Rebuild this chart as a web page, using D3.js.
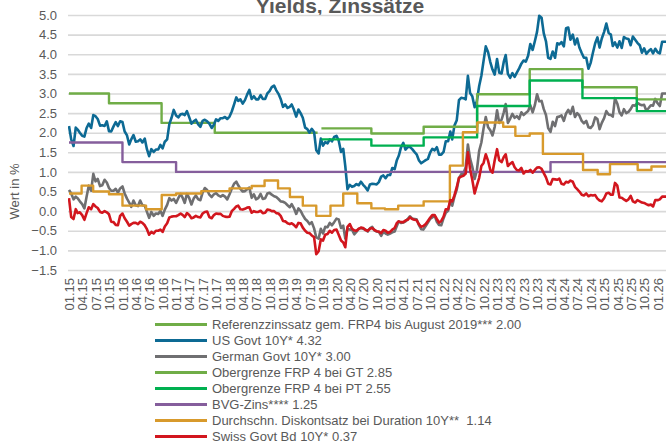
<!DOCTYPE html>
<html><head><meta charset="utf-8">
<script src="https://cdn.jsdelivr.net/npm/d3@7"></script>
<style>
html,body{margin:0;padding:0;background:#fff;}
svg{display:block;font-family:"Liberation Sans",Arial,sans-serif;}
</style></head><body>
<svg id="c" width="666" height="443"></svg>
<script>
// ---------- DATA ----------
const chartTitle = "Yields, Zinssätze";
const yAxisTitle = "Wert in %";
const yTickValues = [-1.5,-1.0,-0.5,0.0,0.5,1.0,1.5,2.0,2.5,3.0,3.5,4.0,4.5,5.0];

// semi-monthly observations (1st and 16th of each month), Jan 2015 .. Mar 2026
const usGovt10Y = [
2.17,1.83,1.66,2.13,2.08,2.00,1.92,1.90,2.12,2.23,2.12,2.45,2.42,2.35,2.18,2.19,2.17,2.29,2.04,2.03,2.16,2.27,2.17,2.29,
2.27,2.03,1.93,1.70,1.83,1.94,1.77,1.78,1.83,1.75,1.85,1.58,1.40,1.58,1.51,1.57,1.57,1.69,1.60,1.77,1.83,2.22,2.38,2.58,
2.44,2.39,2.47,2.48,2.45,2.55,2.39,2.23,2.29,2.33,2.21,2.15,2.30,2.33,2.29,2.23,2.12,2.20,2.34,2.30,2.37,2.37,2.40,2.35,
2.41,2.54,2.72,2.90,2.81,2.85,2.74,2.83,2.97,3.09,2.86,2.93,2.85,2.85,2.96,2.86,2.86,3.00,3.06,3.16,3.20,3.08,2.99,2.86,
2.66,2.72,2.63,2.66,2.72,2.59,2.41,2.59,2.50,2.38,2.13,2.09,2.00,2.10,2.02,1.55,1.47,1.85,1.67,1.76,1.73,1.83,1.78,1.89,
1.92,1.80,1.51,1.59,1.15,0.56,0.67,0.62,0.64,0.69,0.66,0.75,0.67,0.61,0.53,0.68,0.70,0.69,0.68,0.74,0.88,0.91,0.84,0.92,
0.92,1.10,1.07,1.30,1.41,1.62,1.74,1.57,1.63,1.64,1.58,1.51,1.45,1.30,1.22,1.26,1.30,1.33,1.49,1.59,1.55,1.63,1.44,1.44,
1.51,1.78,1.78,2.03,1.83,2.18,2.32,2.83,2.89,2.88,2.85,3.45,3.01,2.93,2.65,2.80,3.19,3.45,3.83,4.20,4.05,3.80,3.61,3.48,
3.88,3.53,3.51,3.81,3.98,3.50,3.40,3.52,3.42,3.53,3.64,3.76,3.84,3.81,3.96,4.26,4.11,4.33,4.57,4.98,4.93,4.53,4.33,3.91,
3.88,4.07,3.91,4.28,4.25,4.31,4.20,4.66,4.68,4.37,4.50,4.25,4.40,4.17,4.03,3.91,3.91,3.63,3.78,4.03,4.28,4.43,4.17,4.40,
4.57,4.78,4.54,4.50,4.21,4.30,4.17,4.33,4.16,4.44,4.40,4.39,4.23,4.45,4.37,4.29,4.23,4.04,4.15,4.01,4.08,4.13,4.02,4.14,
4.05,4.02,4.32,4.32,4.32];

const germanGovt10Y = [
0.54,0.45,0.30,0.37,0.33,0.25,0.18,0.07,0.37,0.65,0.52,0.95,0.76,0.82,0.64,0.66,0.80,0.73,0.59,0.52,0.52,0.57,0.47,0.58,
0.63,0.45,0.32,0.22,0.11,0.27,0.15,0.13,0.27,0.15,0.14,-0.02,-0.17,-0.02,-0.12,-0.06,-0.07,0.01,-0.12,0.04,0.16,0.33,0.27,0.31,
0.21,0.33,0.44,0.33,0.21,0.44,0.33,0.17,0.32,0.40,0.30,0.28,0.47,0.59,0.54,0.42,0.36,0.43,0.46,0.40,0.37,0.41,0.37,0.30,
0.43,0.57,0.70,0.75,0.66,0.57,0.50,0.51,0.56,0.60,0.34,0.43,0.30,0.33,0.44,0.31,0.33,0.45,0.47,0.42,0.38,0.36,0.31,0.25,
0.24,0.21,0.15,0.10,0.18,0.08,-0.07,0.07,0.01,-0.10,-0.20,-0.25,-0.33,-0.28,-0.44,-0.67,-0.70,-0.45,-0.57,-0.40,-0.41,-0.30,-0.36,-0.28,
-0.19,-0.21,-0.43,-0.37,-0.70,-0.45,-0.47,-0.47,-0.59,-0.53,-0.45,-0.43,-0.45,-0.47,-0.52,-0.44,-0.40,-0.49,-0.52,-0.53,-0.63,-0.53,-0.57,-0.60,
-0.57,-0.54,-0.52,-0.38,-0.26,-0.30,-0.29,-0.26,-0.20,-0.13,-0.19,-0.20,-0.21,-0.35,-0.46,-0.47,-0.38,-0.29,-0.20,-0.16,-0.11,-0.27,-0.35,-0.36,
-0.18,-0.04,0.01,0.27,0.14,0.37,0.55,0.84,0.94,0.96,1.12,1.70,1.34,1.13,0.82,1.03,1.54,1.75,2.11,2.40,2.14,2.06,1.93,2.15,
2.57,2.25,2.33,2.52,2.73,2.25,2.36,2.48,2.38,2.42,2.35,2.52,2.45,2.50,2.55,2.70,2.52,2.70,2.98,2.80,2.81,2.60,2.45,2.12,
2.02,2.28,2.17,2.40,2.41,2.44,2.30,2.49,2.58,2.48,2.66,2.40,2.50,2.44,2.30,2.24,2.30,2.14,2.12,2.19,2.39,2.35,2.09,2.25,
2.37,2.55,2.46,2.45,2.41,2.88,2.74,2.52,2.44,2.60,2.50,2.53,2.60,2.70,2.69,2.76,2.72,2.70,2.71,2.56,2.63,2.70,2.69,2.86,
2.75,2.68,3.00,3.00,3.00];

const swissGovt10Y = [
0.33,-0.15,-0.20,0.05,-0.05,-0.03,-0.10,-0.22,-0.05,0.10,0.05,0.18,0.12,0.08,-0.02,-0.04,0.00,-0.03,-0.08,-0.27,-0.28,-0.35,-0.36,-0.12,
-0.06,-0.18,-0.27,-0.37,-0.33,-0.30,-0.30,-0.33,-0.27,-0.30,-0.36,-0.46,-0.60,-0.53,-0.57,-0.50,-0.50,-0.47,-0.53,-0.39,-0.31,-0.16,-0.14,-0.13,
-0.13,-0.10,-0.06,-0.10,-0.15,-0.05,-0.10,-0.18,-0.16,-0.12,-0.15,-0.16,-0.06,-0.02,-0.01,-0.15,-0.18,-0.10,-0.06,-0.07,-0.07,-0.12,-0.14,-0.15,
-0.14,0.00,0.06,0.12,0.14,0.05,0.04,0.06,0.09,0.10,-0.04,0.00,-0.02,-0.02,0.01,-0.05,-0.04,0.04,0.03,0.00,0.00,-0.05,-0.06,-0.12,
-0.25,-0.26,-0.31,-0.33,-0.31,-0.35,-0.41,-0.30,-0.31,-0.42,-0.50,-0.55,-0.56,-0.62,-0.66,-1.10,-1.02,-0.72,-0.75,-0.60,-0.58,-0.50,-0.55,-0.48,
-0.47,-0.60,-0.75,-0.80,-0.92,-0.40,-0.33,-0.45,-0.49,-0.50,-0.45,-0.42,-0.43,-0.48,-0.50,-0.45,-0.43,-0.48,-0.51,-0.52,-0.56,-0.48,-0.50,-0.55,
-0.53,-0.47,-0.43,-0.30,-0.26,-0.28,-0.28,-0.24,-0.22,-0.16,-0.20,-0.22,-0.23,-0.33,-0.40,-0.38,-0.33,-0.25,-0.17,-0.10,-0.10,-0.20,-0.29,-0.25,
-0.14,0.05,0.05,0.28,0.25,0.40,0.61,0.85,0.88,0.90,0.96,1.50,1.07,0.80,0.45,0.65,0.85,1.15,1.23,1.45,1.28,1.05,0.98,1.30,
1.58,1.30,1.25,1.38,1.45,1.15,1.21,1.25,1.12,1.05,1.04,1.10,0.96,1.02,1.01,1.05,0.98,1.05,1.11,1.12,1.08,0.97,0.86,0.70,
0.68,0.82,0.81,0.80,0.83,0.70,0.68,0.75,0.73,0.78,0.75,0.62,0.56,0.50,0.42,0.40,0.45,0.38,0.41,0.40,0.41,0.32,0.27,0.25,
0.33,0.45,0.47,0.42,0.42,0.72,0.65,0.35,0.34,0.30,0.26,0.30,0.39,0.25,0.22,0.28,0.25,0.22,0.21,0.18,0.15,0.17,0.12,0.28,
0.28,0.30,0.37,0.37,0.37];

// step series: change dates and values (last date = end of visible range)
const referenzDates = ["2015-01-01","2015-10-01","2016-09-24","2017-09-22","2019-08-25"];
const referenzValues = [3.00,2.75,2.25,2.00,2.00];

const frpGTDates = ["2019-09-20","2020-08-26","2021-08-18","2022-08-18","2023-08-12","2024-08-06","2025-08-12","2026-03-01"];
const frpGTValues = [2.11,1.98,2.15,2.98,3.62,3.16,2.85,2.85];

const frpPTDates = ["2019-09-20","2020-08-26","2021-08-18","2022-08-18","2023-08-12","2024-08-06","2025-08-12","2026-03-01"];
const frpPTValues = [1.83,1.67,1.88,2.68,3.33,2.88,2.55,2.55];

const bvgDates = ["2015-01-01","2016-01-01","2017-01-01","2024-01-01","2026-03-01"];
const bvgValues = [1.75,1.25,1.00,1.25,1.25];

const diskontDates = ["2015-01-01","2015-03-28","2015-06-15","2015-10-01","2016-01-01","2016-06-10","2016-09-25","2017-01-01",
"2017-06-22","2018-01-01","2018-06-01","2018-08-28","2018-11-28","2019-02-17","2019-05-16","2019-08-16","2019-11-21",
"2020-02-16","2020-05-22","2020-08-26","2020-11-27","2021-02-25","2021-08-18","2022-02-13","2022-05-13","2022-08-19",
"2023-02-12","2023-05-06","2023-08-12","2023-11-10","2024-08-10","2024-11-18","2025-02-10","2025-08-18","2025-11-20","2026-03-01"];
const diskontValues = [0.45,0.65,0.50,0.43,0.14,0.05,0.41,0.45,
0.51,0.58,0.64,0.78,0.58,0.36,0.14,-0.12,0.14,
0.45,0.20,0.07,0.05,0.14,0.25,1.16,2.01,2.26,
2.15,1.92,1.98,1.46,1.05,0.94,1.20,1.05,1.14,1.14];

const legendLabels = [
"Referenzzinssatz gem. FRP4 bis August 2019*** 2.00",
"US Govt 10Y* 4.32",
"German Govt 10Y* 3.00",
"Obergrenze FRP 4 bei GT 2.85",
"Obergrenze FRP 4 bei PT 2.55",
"BVG-Zins**** 1.25",
"Durchschn. Diskontsatz bei Duration 10Y**  1.14",
"Swiss Govt Bd 10Y* 0.37"];
const seriesColors = ["#70ad47","#0d6a94","#6f6f71","#70ad47","#00b050","#855e9c","#d89a2c","#d2161e"];

// ---------- CHART ----------
const W = 666, H = 443;
const plotLeft = 68, plotRight = 666, plotTop = 15, plotBottom = 270;
const svg = d3.select("#c");
const textColor = "#595959";
const parse = d3.timeParse("%Y-%m-%d");
const halfMonthDate = i => new Date(2015 + Math.floor(i / 24), Math.floor((i % 24) / 2), i % 2 ? 16 : 1);

const x = d3.scaleTime().domain([new Date(2015, 0, 1), new Date(2026, 0, 1)]).range([69, 657.6]);
const y = d3.scaleLinear().domain([-1.5, 5.0]).range([plotBottom, plotTop]);

// title (top edge is cut by the frame, as in the original)
svg.append("text").attr("x", 340).attr("y", 12.5).attr("text-anchor", "middle")
  .attr("font-size", 21).attr("font-weight", "bold").attr("fill", textColor).text(chartTitle);

// y axis + grid
const yAxis = d3.axisLeft(y).tickValues(yTickValues).tickFormat(d3.format(".1f"))
  .tickSizeInner(-(plotRight - plotLeft)).tickSizeOuter(0).tickPadding(11);
const gy = svg.append("g").attr("transform", `translate(${plotLeft},0)`).call(yAxis);
gy.select(".domain").remove();
gy.selectAll(".tick line").attr("stroke", "#d9d9d9").attr("stroke-width", 1.6);
gy.selectAll(".tick text").attr("fill", textColor).attr("font-size", 13)
  .attr("font-family", "'Liberation Sans', Arial, sans-serif");

// y axis title
svg.append("text").attr("transform", "translate(19,191.5) rotate(-90)").attr("text-anchor", "middle")
  .attr("font-size", 13).attr("fill", textColor).text(yAxisTitle);

// x axis labels
const xTicks = d3.timeMonth.every(3).range(new Date(2015, 0, 1), new Date(2026, 0, 2));
const xAxis = d3.axisBottom(x).tickValues(xTicks).tickFormat(d3.timeFormat("%m.%y")).tickSize(0).tickPadding(0);
const gx = svg.append("g").attr("transform", `translate(0,${plotBottom})`).call(xAxis);
gx.select(".domain").remove();
gx.selectAll(".tick text").attr("fill", textColor).attr("font-size", 13)
  .attr("font-family", "'Liberation Sans', Arial, sans-serif")
  .attr("text-anchor", "end").attr("transform", "rotate(-90)")
  .attr("x", -8).attr("y", 0).attr("dy", "0.36em");

// clip
svg.append("clipPath").attr("id", "clip").append("rect")
  .attr("x", plotLeft).attr("y", 0).attr("width", plotRight - plotLeft).attr("height", H);
const plot = svg.append("g").attr("clip-path", "url(#clip)");

const smoothLine = d3.line().x(d => x(d[0])).y(d => y(d[1]));
const stepLine = d3.line().x(d => x(d[0])).y(d => y(d[1])).curve(d3.curveStepAfter);

const semi = arr => arr.map((v, i) => [halfMonthDate(i), v]);
const steps = (ds, vs) => ds.map((d, i) => [parse(d), vs[i]]);

const seriesDefs = [
  {data: steps(referenzDates, referenzValues), gen: stepLine, w: 2.4},
  {data: semi(usGovt10Y), gen: smoothLine, w: 2.6},
  {data: semi(germanGovt10Y), gen: smoothLine, w: 2.6},
  {data: steps(frpGTDates, frpGTValues), gen: stepLine, w: 2.4},
  {data: steps(frpPTDates, frpPTValues), gen: stepLine, w: 2.4},
  {data: steps(bvgDates, bvgValues), gen: stepLine, w: 2.4},
  {data: steps(diskontDates, diskontValues), gen: stepLine, w: 2.4},
  {data: semi(swissGovt10Y), gen: smoothLine, w: 2.6}
];
seriesDefs.forEach((s, i) => {
  plot.append("path").attr("d", s.gen(s.data)).attr("fill", "none")
    .attr("stroke", seriesColors[i]).attr("stroke-width", s.w).attr("stroke-linejoin", "round");
});

// legend
const legend = svg.append("g");
legendLabels.forEach((lab, i) => {
  const cy = 324.5 + i * 16;
  legend.append("line").attr("x1", 155).attr("x2", 207).attr("y1", cy).attr("y2", cy)
    .attr("stroke", seriesColors[i]).attr("stroke-width", 3);
  legend.append("text").attr("x", 212).attr("y", cy).attr("dy", "0.36em")
    .attr("font-size", 13).attr("fill", textColor)
    .style("white-space", "pre").text(lab);
});
</script>
</body></html>
